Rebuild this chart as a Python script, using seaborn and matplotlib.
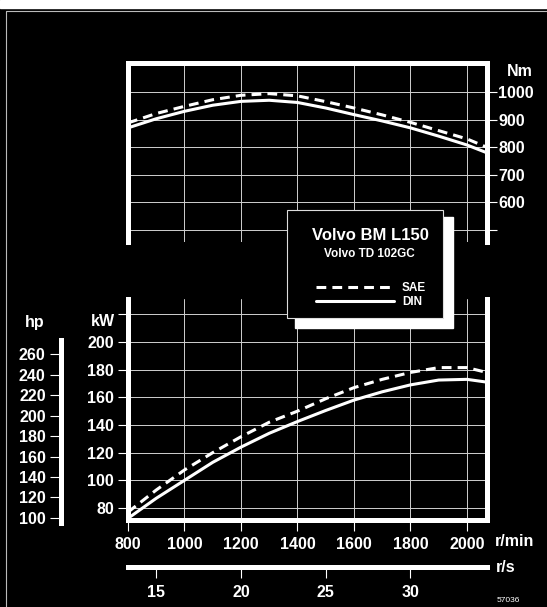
import pandas as pd
import seaborn as sns
import matplotlib.pyplot as plt
from matplotlib.patches import Rectangle

# engine curves (r/min, Nm, kW)
rpm = [800, 900, 1000, 1100, 1200, 1300, 1400, 1500, 1600, 1700, 1800, 1900, 2000, 2070]
torque_sae = [888, 922, 948, 972, 988, 994, 986, 965, 942, 917, 890, 860, 830, 800]
torque_din = [870, 903, 930, 952, 966, 970, 962, 942, 918, 895, 870, 840, 808, 780]
power_sae = [77, 93, 107.5, 120, 131.5, 142, 150, 159, 167, 173, 178, 181.5, 181.5, 178]
power_din = [72.5, 87, 100, 113, 124, 134, 142.5, 150.5, 158, 164, 169, 172.5, 173, 171]

rpm_ticks = [800, 1000, 1200, 1400, 1600, 1800, 2000]
nm_ticks = [500, 600, 700, 800, 900, 1000]
nm_labels = ["", "600", "700", "800", "900", "1000"]
kw_ticks = [80, 100, 120, 140, 160, 180, 200, 220]
kw_labels = ["80", "100", "120", "140", "160", "180", "200", ""]
hp_ticks = [100, 120, 140, 160, 180, 200, 220, 240, 260]
rs_ticks = [15, 20, 25, 30]

df = pd.DataFrame({"rpm": rpm, "t_sae": torque_sae, "t_din": torque_din,
                   "p_sae": power_sae, "p_din": power_din})

sns.set_theme(style="white")
plt.rcParams["font.family"] = ["Liberation Sans", "DejaVu Sans"]
plt.rcParams["font.weight"] = "bold"

W, H = 547, 607
fig = plt.figure(figsize=(W / 100, H / 100), dpi=100, facecolor="black")

def box(x0, y0, x1, y1):
    return [x0 / W, 1 - y1 / H, (x1 - x0) / W, (y1 - y0) / H]

FS = 11.5
SPW = 3.6
GRID = dict(color="#d0d0d0", lw=0.7)
TICK = dict(direction="out", width=0.8, colors="white", labelsize=FS)

# --- torque panel
ax_t = fig.add_axes(box(128, 63, 487, 242), facecolor="black")
sns.lineplot(data=df, x="rpm", y="t_sae", ax=ax_t, color="white", lw=2.2, linestyle="--")
sns.lineplot(data=df, x="rpm", y="t_din", ax=ax_t, color="white", lw=2.2)
ax_t.lines[0].set_dashes([3.2, 2.0])
ax_t.set_xlim(800, 2071)
ax_t.set_ylim(456.5, 1105)
ax_t.set_xticks(rpm_ticks)
ax_t.set_yticks(nm_ticks, nm_labels)
ax_t.yaxis.tick_right()
ax_t.tick_params(axis="y", right=True, left=False, length=7, pad=1, **TICK)
ax_t.tick_params(axis="x", length=0, labelbottom=False)
ax_t.grid(True, **GRID)
ax_t.set_xlabel("")
ax_t.set_ylabel("")
for s in ["top", "left", "right"]:
    ax_t.spines[s].set_color("white")
    ax_t.spines[s].set_linewidth(SPW)
ax_t.spines["bottom"].set_visible(False)

# --- power panel
ax_p = fig.add_axes(box(128, 299, 487, 520), facecolor="black")
sns.lineplot(data=df, x="rpm", y="p_sae", ax=ax_p, color="white", lw=2.2, linestyle="--")
sns.lineplot(data=df, x="rpm", y="p_din", ax=ax_p, color="white", lw=2.2)
ax_p.lines[0].set_dashes([3.2, 2.0])
ax_p.set_xlim(800, 2071)
ax_p.set_ylim(71.3, 231.1)
ax_p.set_xticks(rpm_ticks)
ax_p.set_yticks(kw_ticks, kw_labels)
ax_p.tick_params(axis="y", left=True, length=7, pad=3, **TICK)
ax_p.tick_params(axis="x", bottom=True, length=8, pad=4, **TICK)
ax_p.grid(True, **GRID)
ax_p.set_xlabel("")
ax_p.set_ylabel("")
for s in ["bottom", "left", "right"]:
    ax_p.spines[s].set_color("white")
    ax_p.spines[s].set_linewidth(SPW)
ax_p.spines["top"].set_visible(False)

# --- hp scale
ax_hp = fig.add_axes(box(61, 340, 70, 523), facecolor="none")
ax_hp.set_ylim(95.1, 273.7)
ax_hp.set_yticks(hp_ticks)
ax_hp.set_xticks([])
ax_hp.tick_params(axis="y", left=True, length=8, pad=3, **TICK)
for s in ["top", "bottom", "right"]:
    ax_hp.spines[s].set_visible(False)
ax_hp.spines["left"].set_color("white")
ax_hp.spines["left"].set_linewidth(SPW)

# --- r/s scale
ax_rs = fig.add_axes(box(128, 566.5, 487, 567), facecolor="none")
ax_rs.set_xlim(800 / 60, 2071 / 60)
ax_rs.set_xticks(rs_ticks)
ax_rs.set_yticks([])
ax_rs.tick_params(axis="x", bottom=True, length=8, pad=5, **TICK)
for s in ["top", "left", "right"]:
    ax_rs.spines[s].set_visible(False)
ax_rs.spines["bottom"].set_color("white")
ax_rs.spines["bottom"].set_linewidth(SPW)

# --- overlay: page edges + legend box
ov = fig.add_axes([0, 0, 1, 1], facecolor="none")
ov.set_xlim(0, W)
ov.set_ylim(H, 0)
ov.axis("off")
ov.add_patch(Rectangle((0, 0), W, 8, color="white"))
ov.plot([6, 6, W], [H, 11, 11], color="#bbbbbb", lw=0.8)
ov.add_patch(Rectangle((295, 217), 158, 111, color="white"))
ov.add_patch(Rectangle((287, 210), 156, 108, facecolor="black", edgecolor="#dddddd", lw=0.8))

ov.text(370, 235, "Volvo BM L150", color="white", fontsize=12, ha="center", va="center")
ov.text(369, 254, "Volvo TD 102GC", color="white", fontsize=8.5, ha="center", va="center")
fig.legend([ax_t.lines[0], ax_t.lines[1]], ["SAE", "DIN"], loc="center left",
           bbox_to_anchor=(305 / W, 1 - 295 / H), frameon=False, fontsize=8.5,
           labelcolor="white", handlelength=6.6, handletextpad=0.7, labelspacing=0.2)

# axis names
ov.text(520, 71, "Nm", color="white", fontsize=FS, ha="center", va="center")
ov.text(103, 322, "kW", color="white", fontsize=FS, ha="center", va="center")
ov.text(35, 322, "hp", color="white", fontsize=FS, ha="center", va="center")
ov.text(495, 541, "r/min", color="white", fontsize=FS, ha="left", va="center")
ov.text(496, 568, "r/s", color="white", fontsize=FS, ha="left", va="center")
ov.text(497, 600, "57036", color="white", fontsize=6, fontweight="normal",
        ha="left", va="center")

fig.savefig("out.png", dpi=100, facecolor="black")
